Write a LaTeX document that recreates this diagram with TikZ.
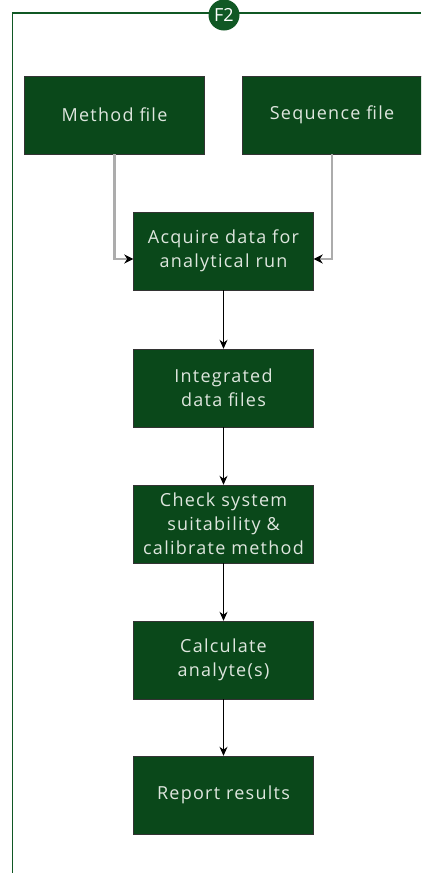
\documentclass[tikz,border=0pt]{standalone}
\usepackage{fontspec}
\setmainfont{Open Sans}
\usetikzlibrary{arrows.meta}
\definecolor{boxgreen}{RGB}{10,72,26}
\definecolor{framegreen}{RGB}{16,88,36}
\definecolor{boxtext}{RGB}{222,230,222}
\tikzset{
  stepbox/.style={draw=black!80,fill=boxgreen,text=boxtext,minimum width=180pt,
    minimum height=78pt,align=center,
    font=\fontsize{18}{24}\selectfont\addfontfeature{LetterSpace=7}},
  feed/.style={draw=gray!65,line width=2.4pt,-{Stealth[black,length=9pt,width=9pt]}},
  flow/.style={draw=black,line width=1.2pt,-{Stealth[length=9pt,width=8pt]}}
}
\begin{document}
\begin{tikzpicture}[x=1pt,y=-1pt]
    \useasboundingbox (0,0) rectangle (421,873);
    \clip (0,0) rectangle (421,873);
    % marco
    \draw[framegreen,line width=1.5pt] (421,13) -- (12.5,13) -- (12.5,873);
    \node[circle,fill=framegreen,text=white,minimum size=31pt,inner sep=0pt,
      font=\fontsize{18}{18}\selectfont] (tag) at (224,15) {F2};
    % entradas
    \node[stepbox] (method) at (114.5,115) {Method file};
    \node[stepbox] (sequence) at (332,115) {Sequence file};
    % pasos
    \node[stepbox] (acquire) at (223.5,251) {Acquire data for\\analytical run};
    \node[stepbox] (integrated) at (223.5,388) {Integrated\\data files};
    \node[stepbox] (check) at (223.5,524) {Check system\\suitability \&\\calibrate method};
    \node[stepbox] (calc) at (223.5,660) {Calculate\\analyte(s)};
    \node[stepbox] (report) at (223.5,795) {Report results};
    % flechas
    \draw[feed] (method.south) |- ([yshift=-8pt]acquire.west);
    \draw[feed] (sequence.south) |- ([yshift=-8pt]acquire.east);
    \draw[flow] (acquire) -- (integrated);
    \draw[flow] (integrated) -- (check);
    \draw[flow] (check) -- (calc);
    \draw[flow] (calc) -- (report);
\end{tikzpicture}
\end{document}
